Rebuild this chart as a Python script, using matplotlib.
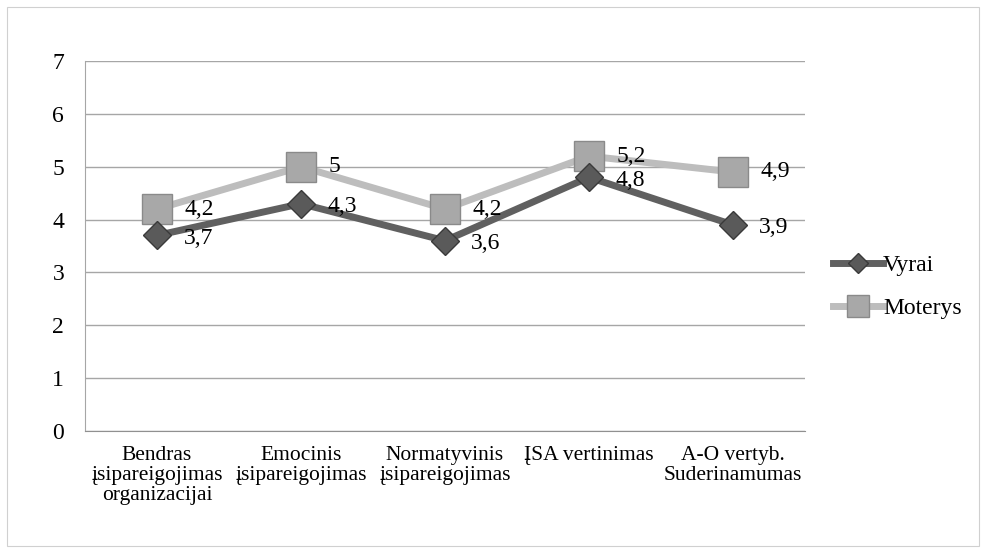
import matplotlib.pyplot as plt
from matplotlib.patches import Rectangle

# Duomenys
kategorijos = ["Bendras\nįsipareigojimas\norganizacijai", "Emocinis\nįsipareigojimas",
               "Normatyvinis\nįsipareigojimas", "ĮSA vertinimas", "A-O vertyb.\nSuderinamumas"]
vyrai = [3.7, 4.3, 3.6, 4.8, 3.9]
moterys = [4.2, 5.0, 4.2, 5.2, 4.9]
vyrai_txt = ["3,7", "4,3", "3,6", "4,8", "3,9"]
moterys_txt = ["4,2", "5", "4,2", "5,2", "4,9"]

plt.rcParams['font.family'] = 'serif'
plt.rcParams['font.serif'] = ['Liberation Serif', 'DejaVu Serif']

fig = plt.figure(figsize=(9.86, 5.53), dpi=100)
fig.patches.append(Rectangle((0.007, 0.012), 0.986, 0.976, transform=fig.transFigure,
                             fill=False, edgecolor='#d0d0d0', linewidth=0.8))
ax = fig.add_axes([0.0862, 0.2206, 0.7302, 0.6691])

x = list(range(len(kategorijos)))
ax.plot(x, vyrai, color='#606060', linewidth=5, marker='D', markersize=14,
        markerfacecolor='#5a5a5a', markeredgecolor='#3a3a3a', label='Vyrai', zorder=3)
ax.plot(x, moterys, color='#bdbdbd', linewidth=5, marker='s', markersize=21,
        markerfacecolor='#a8a8a8', markeredgecolor='#8a8a8a', label='Moterys', zorder=2)

for xi, v, t in zip(x, vyrai, vyrai_txt):
    ax.annotate(t, (xi, v), xytext=(19, -2), textcoords='offset points',
                ha='left', va='center', fontsize=17, family='Liberation Serif')
for xi, v, t in zip(x, moterys, moterys_txt):
    ax.annotate(t, (xi, v), xytext=(20, 0), textcoords='offset points',
                ha='left', va='center', fontsize=17, family='Liberation Serif')

ax.set_xlim(-0.5, 4.5)
ax.set_ylim(0, 7)
ax.set_yticks(range(0, 8))
ax.set_xticks(x)
ax.set_xticklabels(kategorijos, fontsize=15.5, linespacing=1.05, family='Liberation Serif')
ax.set_yticklabels([str(i) for i in range(0, 8)], family='Liberation Serif')
ax.tick_params(axis='y', length=0, pad=15, labelsize=17)
ax.tick_params(axis='x', length=0, pad=11)
ax.grid(axis='y', color='#a6a6a6', linewidth=1)
ax.set_axisbelow(True)
for s in ['top', 'right']:
    ax.spines[s].set_visible(False)
ax.spines['bottom'].set_color('#909090')
ax.spines['left'].set_color('#a6a6a6')

ax.legend(loc='center left', bbox_to_anchor=(1.01, 0.39), frameon=False,
          prop={'family': 'Liberation Serif', 'size': 17},
          handlelength=2.1, handletextpad=0.0, labelspacing=0.9, markerscale=0.75)

fig.savefig('out.png', dpi=100)
